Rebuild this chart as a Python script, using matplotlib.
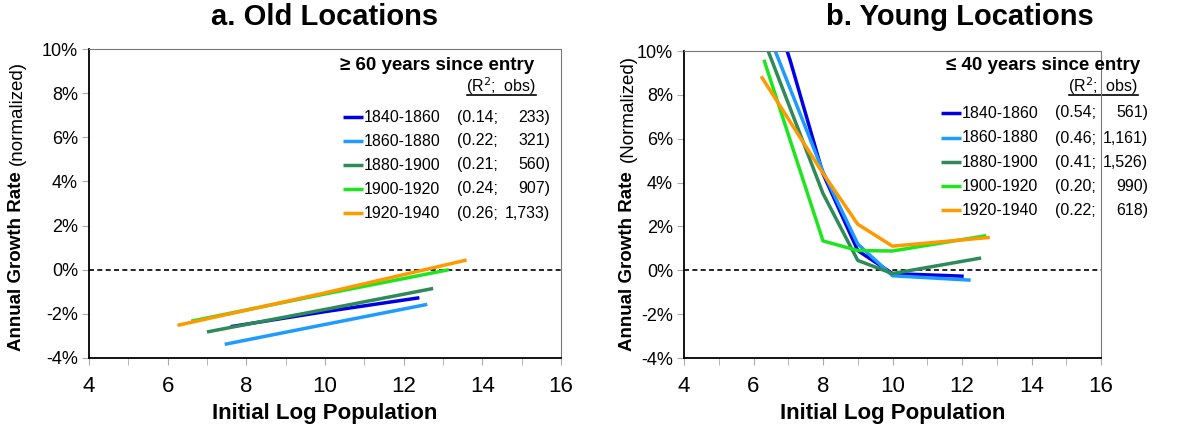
import matplotlib
matplotlib.use("Agg")
import matplotlib.pyplot as plt
from matplotlib.ticker import MultipleLocator, FuncFormatter

plt.rcParams['font.family'] = ['Liberation Sans', 'DejaVu Sans']

periods = ['1840-1860', '1860-1880', '1880-1900', '1900-1920', '1920-1940']
colors = ['#0000e6', '#1e9bff', '#2e8b57', '#1ee61e', '#ff9900']

# old locations (>= 60 years since entry)
old_x = [
    [7.6, 10.0, 12.4],
    [7.45, 10.0, 12.6],
    [7.0, 10.0, 12.75],
    [6.6, 10.0, 13.15],
    [6.25, 10.0, 13.6],
]
old_y = [
    [-2.58, -1.9, -1.27],
    [-3.38, -2.48, -1.57],
    [-2.82, -1.8, -0.85],
    [-2.33, -1.1, 0.0],
    [-2.52, -1.05, 0.44],
]
old_stats = ['(0.14;    233)', '(0.22;    321)', '(0.21;    560)', '(0.24;    907)', '(0.26; 1,733)']

# young locations (<= 40 years since entry)
young_x = [
    [6.8, 7.05, 8.0, 9.0, 10.0, 12.05],
    [6.45, 8.0, 9.0, 10.0, 12.25],
    [6.3, 8.0, 9.0, 10.0, 12.55],
    [6.3, 8.0, 9.0, 10.0, 12.7],
    [6.22, 8.0, 9.0, 10.0, 12.8],
]
young_y = [
    [10.8, 9.6, 4.4, 0.9, -0.15, -0.27],
    [10.7, 4.5, 1.2, -0.25, -0.45],
    [10.5, 3.5, 0.45, -0.15, 0.56],
    [9.6, 1.34, 0.9, 0.88, 1.58],
    [8.85, 4.42, 2.1, 1.1, 1.5],
]
young_stats = ['(0.54;    561)', '(0.46; 1,161)', '(0.41; 1,526)', '(0.20;    990)', '(0.22;    618)']

fig = plt.figure(figsize=(11.95, 4.29), dpi=100)
W, H = 1195, 429
ax1 = fig.add_axes([89 / W, 1 - 358 / H, (561 - 89) / W, (358 - 49) / H])
ax2 = fig.add_axes([684 / W, 1 - 358 / H, (1101 - 684) / W, (358 - 51) / H])


def style(ax):
    ax.set_xlim(4, 16)
    ax.set_ylim(-4, 10)
    ax.xaxis.set_major_locator(MultipleLocator(2))
    ax.xaxis.set_minor_locator(MultipleLocator(1))
    ax.yaxis.set_major_locator(MultipleLocator(2))
    ax.yaxis.set_major_formatter(FuncFormatter(lambda v, p: '%d%%' % round(v)))
    ax.tick_params(axis='x', which='both', direction='out', length=5, color='#aaaaaa',
                   labelsize=16, pad=8)
    ax.tick_params(axis='y', direction='out', length=5, color='#aaaaaa', labelsize=13, pad=3)
    for s in ['top', 'right']:
        ax.spines[s].set_color('#777777')
    for s in ['left', 'bottom']:
        ax.spines[s].set_color('black')
        ax.spines[s].set_linewidth(1.3)
    ax.axhline(0, color='black', linestyle=(0, (3, 2)), linewidth=1.2)
    ax.set_xlabel('Initial Log Population', fontsize=16, fontweight='bold', labelpad=4)


def legend(ax, title, stats, title_x, rows_y, hdr_x, hdr_y, line_x, text_x, par_x, end_x, ax_px):
    # ax_px = (left, top, width, height) of axes in pixels
    l, t, w, h = ax_px
    tr = lambda px, py: ((px - l) / w, (t + h - py) / h)
    ax.text(*tr(title_x, 66), title, transform=ax.transAxes, fontsize=13.5,
            fontweight='bold', ha='left', va='center')
    ax.text(*tr(hdr_x, hdr_y), r'(R$^2$;  obs)', transform=ax.transAxes, fontsize=11.5,
            ha='right', va='center')
    x0, y0 = tr(hdr_x - 69, hdr_y + 9)
    x1, _ = tr(hdr_x, hdr_y + 9)
    ax.plot([x0, x1], [y0, y0], color='black', lw=1.2, transform=ax.transAxes, clip_on=False)
    for i, (p, s) in enumerate(zip(periods, stats)):
        py = rows_y[i]
        a0, yy = tr(line_x[0], py)
        a1, _ = tr(line_x[1], py)
        ax.plot([a0, a1], [yy, yy], color=colors[i], lw=2.5, transform=ax.transAxes,
                solid_capstyle='butt', clip_on=False)
        ax.text(tr(text_x, py)[0], yy, p, transform=ax.transAxes, fontsize=11.5,
                ha='left', va='center')
        ax.text(tr(par_x, py)[0], yy, s[:6], transform=ax.transAxes, fontsize=11.5,
                ha='left', va='center')
        ax.text(tr(end_x, py)[0], yy, s[6:].strip(), transform=ax.transAxes, fontsize=11.5,
                ha='right', va='center')


style(ax1)
style(ax2)

for i in range(5):
    ax1.plot(old_x[i], old_y[i], color=colors[i], lw=2.5, solid_capstyle='butt')
    ax2.plot(young_x[i], young_y[i], color=colors[i], lw=2.5, solid_capstyle='butt')

legend(ax1, '\u2265 60 years since entry', old_stats, 340, [117, 141, 165, 189, 213],
       536, 86, (343, 363), 364, 457, 550, (89, 49, 472, 309))
legend(ax2, '\u2264 40 years since entry', young_stats, 946, [113, 138, 162, 186, 210],
       1138, 86, (941, 961), 962, 1055, 1148, (684, 51, 417, 307))

fig.text(325 / W, 1 - 17 / H, 'a. Old Locations', fontsize=21, fontweight='bold',
         ha='center', va='center')
fig.text(960 / W, 1 - 17 / H, 'b. Young Locations', fontsize=21, fontweight='bold',
         ha='center', va='center')

# y labels: bold part + normal part
fig.text(17 / W, 1 - 351 / H, 'Annual Growth Rate', rotation=90, fontsize=13.5,
         fontweight='bold', ha='center', va='bottom')
fig.text(17 / W, 1 - 165 / H, '(normalized)', rotation=90, fontsize=13.5,
         ha='center', va='bottom')
fig.text(628 / W, 1 - 351 / H, 'Annual Growth Rate', rotation=90, fontsize=13.5,
         fontweight='bold', ha='center', va='bottom')
fig.text(628 / W, 1 - 162 / H, '(Normalized)', rotation=90, fontsize=13.5,
         ha='center', va='bottom')

fig.savefig('out.png', dpi=100)
